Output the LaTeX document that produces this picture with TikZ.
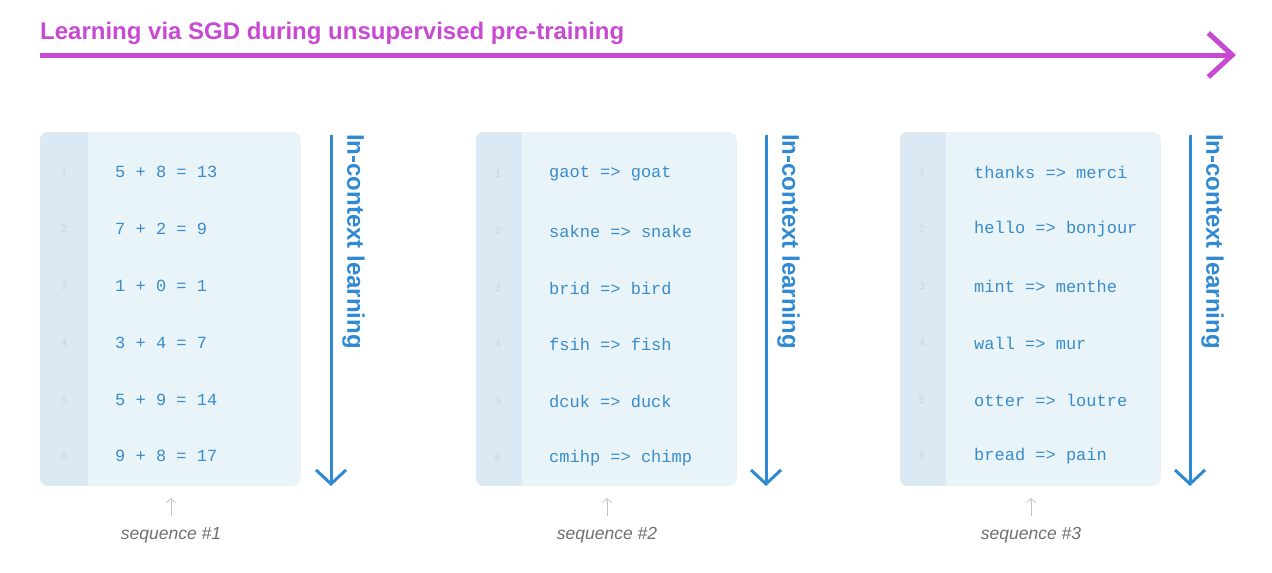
\documentclass[tikz,border=0pt]{standalone}
\usepackage{fontspec}
\setmainfont{Liberation Sans}
\newfontfamily\monof{Liberation Mono}
\usetikzlibrary{arrows.meta}
\definecolor{magen}{HTML}{C84AD2}
\definecolor{panelbg}{HTML}{E9F4F9}
\definecolor{gutterbg}{HTML}{DAE9F3}
\definecolor{codeblue}{HTML}{3A8CCB}
\definecolor{arrowblue}{HTML}{2F8AD3}
\definecolor{numgray}{HTML}{CAD6DE}
\definecolor{seqgray}{HTML}{707070}
\definecolor{seqarrowgray}{HTML}{C4C4C4}
\tikzset{
  codeline/.style={anchor=west, inner sep=0pt, text=codeblue, font=\monof\fontsize{17}{19}\selectfont},
  linenum/.style={inner sep=0pt, text=numgray, font=\monof\fontsize{11}{12}\selectfont},
  iclarrow/.style={draw=arrowblue, line width=3pt, -{Straight Barb[length=14pt,width=30pt,line width=3pt]}},
  icllabel/.style={inner sep=0pt, text=arrowblue, rotate=-90, font=\bfseries\fontsize{24}{26}\selectfont},
  seqlabel/.style={inner sep=0pt, text=seqgray, font=\itshape\fontsize{17.5}{20}\selectfont},
  seqarrow/.style={draw=seqarrowgray, line width=0.8pt, -{Straight Barb[length=4pt,width=9pt,line width=0.8pt]}},
}
\begin{document}
\begin{tikzpicture}[x=1pt,y=-1pt]
\useasboundingbox (0,0) rectangle (1272,573);
\fill[white] (0,0) rectangle (1272,573);

% top arrow
\node[anchor=base west, inner sep=0pt, text=magen, font=\bfseries\fontsize{24}{26}\selectfont] (title) at (40,39) {Learning via SGD during unsupervised pre-training};
\coordinate (topL) at (40,55);
\coordinate (topR) at (1236,55);
\draw[draw=magen, line width=5pt, -{Straight Barb[length=24pt,width=44pt,line width=5pt]}] (topL) -- (topR);

% panels
\foreach \px/\gw/\ax/\lbl in {40/48/331/1, 476/46/766/2, 900/46/1190/3} {
  \begin{scope}
    \clip[rounded corners=8pt] (\px,132) rectangle ++(261,354);
    \fill[panelbg] (\px,132) rectangle ++(261,354);
    \fill[gutterbg] (\px,132) rectangle ++(\gw,354);
  \end{scope}
  \coordinate (at\lbl) at (\ax,135);
  \coordinate (ab\lbl) at (\ax,486);
  \draw[iclarrow] (at\lbl) -- (ab\lbl);
  \node[icllabel, anchor=north west] (icl\lbl) at (\ax+34,134) {In-context learning};
  \node[seqlabel] (seq\lbl) at (\px+131,535) {sequence \#\lbl};
  \coordinate (sa\lbl) at (\px+131,498);
  \draw[seqarrow] ([yshift=11pt]seq\lbl.north) -- (sa\lbl);
}

% panel 1
\foreach \i/\y/\t in {1/172/{5 + 8 = 13}, 2/229/{7 + 2 = 9}, 3/286/{1 + 0 = 1}, 4/343/{3 + 4 = 7}, 5/400/{5 + 9 = 14}, 6/456/{9 + 8 = 17}} {
  \node[linenum] (n1\i) at (64,\y) {\i};
  \node[codeline] (c1\i) at (115,\y) {\t};
}
% panel 2
\foreach \i/\y/\t in {1/174/{gaot => goat}, 2/231/{sakne => snake}, 3/288/{brid => bird}, 4/344/{fsih => fish}, 5/401/{dcuk => duck}, 6/458/{cmihp => chimp}} {
  \node[linenum] (n2\i) at (498,\y) {\i};
  \node[codeline] (c2\i) at (549,\y) {\t};
}
% panel 3
\foreach \i/\y/\t in {1/172/{thanks => merci}, 2/229/{hello => bonjour}, 3/286/{mint => menthe}, 4/343/{wall => mur}, 5/400/{otter => loutre}, 6/456/{bread => pain}} {
  \node[linenum] (n3\i) at (922,\y) {\i};
  \node[codeline] (c3\i) at (974,\y) {\t};
}
\end{tikzpicture}
\end{document}
